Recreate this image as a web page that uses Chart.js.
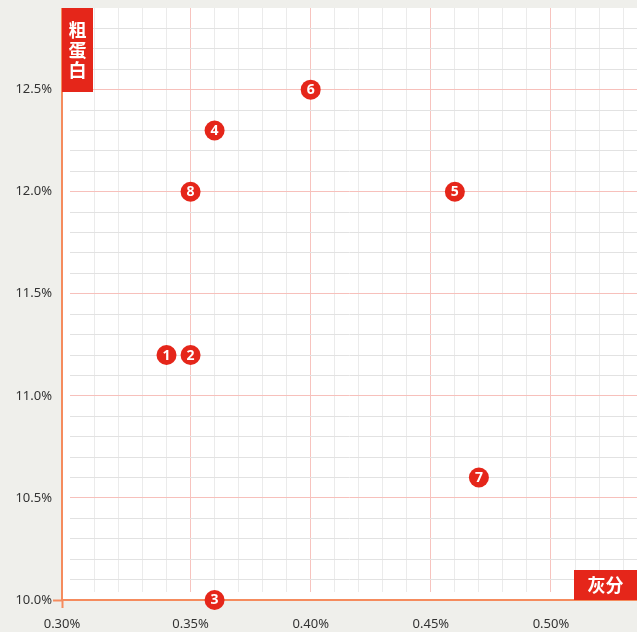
<!DOCTYPE html>
<html lang="zh">

<head>
    <title>灰分 / 粗蛋白</title>
    <script src="https://cdn.jsdelivr.net/npm/chart.js"></script>
    <style>
        html, body { margin: 0; padding: 0; background: #efefeb; }
        canvas { display: block; }
    </style>
</head>

<body>
    <canvas id="chart" width="637" height="632"></canvas>

    <script>
        // Data (percent values)
        const pointLabels = ['1', '2', '3', '4', '5', '6', '7', '8'];
        const xValues = [0.34, 0.35, 0.36, 0.36, 0.46, 0.40, 0.47, 0.35];
        const yValues = [11.2, 11.2, 10.0, 12.3, 12.0, 12.5, 10.6, 12.0];

        // Axes
        const xTitle = '灰分';
        const yTitle = '粗蛋白';
        const xMin = 0.2965, xMax = 0.5358;
        const yMin = 10.0, yMax = 12.9;
        const xTickValues = [0.2965, 0.35, 0.40, 0.45, 0.50];
        const xTickLabels = ['0.30%', '0.35%', '0.40%', '0.45%', '0.50%'];
        const yTickValues = [10.0, 10.5, 11.0, 11.5, 12.0, 12.5];
        const yTickLabels = ['10.0%', '10.5%', '11.0%', '11.5%', '12.0%', '12.5%'];

        const red = '#e5261a';
        const axisColor = '#f58b5d';
        const majorGridX = '#f7c3be';
        const majorGridY = '#f7c0bb';
        const minorGridX = '#ebebeb';
        const minorGridY = '#e2e2e2';

        Chart.defaults.font.family = '"Noto Sans", "Noto Sans CJK SC", sans-serif';

        function findTick(list, v) {
            return list.findIndex(t => Math.abs(t - v) < 1e-6);
        }

        // Paints the plot background, the axis gap, axis lines, point numbers and titles
        const decorations = {
            id: 'decorations',
            beforeDraw(chart) {
                const { ctx, chartArea: a } = chart;
                ctx.save();
                ctx.fillStyle = '#ffffff';
                ctx.fillRect(a.left, a.top, a.right - a.left, a.bottom - a.top);
                ctx.restore();
            },
            beforeDatasetsDraw(chart) {
                const { ctx, chartArea: a } = chart;
                ctx.save();
                ctx.fillStyle = '#ffffff';
                ctx.fillRect(a.left, a.top, 8, a.bottom - a.top);
                ctx.fillRect(a.left, a.bottom - 8, a.right - a.left, 8);
                ctx.strokeStyle = axisColor;
                ctx.lineWidth = 2;
                ctx.beginPath();
                ctx.moveTo(a.left, a.top);
                ctx.lineTo(a.left, a.bottom + 1);
                ctx.moveTo(a.left - 1, a.bottom);
                ctx.lineTo(a.right, a.bottom);
                ctx.stroke();
                ctx.restore();
            },
            afterDatasetsDraw(chart) {
                const { ctx } = chart;
                const meta = chart.getDatasetMeta(0);
                ctx.save();
                ctx.fillStyle = '#ffffff';
                ctx.font = 'bold 14px "Noto Sans", sans-serif';
                ctx.textAlign = 'center';
                ctx.textBaseline = 'middle';
                meta.data.forEach((pt, i) => {
                    ctx.fillText(pointLabels[i], pt.x, pt.y + 0.5);
                });
                ctx.restore();
            },
            afterDraw(chart) {
                const { ctx, chartArea: a } = chart;
                ctx.save();
                ctx.fillStyle = red;
                ctx.fillRect(a.left, a.top, 31, 84);
                ctx.fillRect(a.right - 63, a.bottom - 30, 63, 30);
                ctx.fillStyle = '#ffffff';
                ctx.font = 'bold 18px "Noto Sans CJK SC", sans-serif';
                ctx.textAlign = 'center';
                ctx.textBaseline = 'middle';
                [...yTitle].forEach((ch, i) => {
                    ctx.fillText(ch, a.left + 15.5, a.top + 22 + i * 20);
                });
                ctx.fillText(xTitle, a.right - 31.5, a.bottom - 15);
                ctx.restore();
            }
        };

        const ctx = document.getElementById('chart').getContext('2d');

        const chart = new Chart(ctx, {
            type: 'scatter',
            data: {
                datasets: [{
                    data: xValues.map((x, i) => ({ x: x, y: yValues[i] })),
                    backgroundColor: red,
                    borderWidth: 0,
                    pointRadius: 10,
                    pointHoverRadius: 10,
                    clip: false
                }]
            },
            options: {
                responsive: false,
                animation: false,
                layout: { autoPadding: false, padding: { top: 8, right: 0, bottom: 0, left: 0 } },
                plugins: {
                    legend: { display: false },
                    tooltip: { enabled: false }
                },
                scales: {
                    x: {
                        type: 'linear',
                        min: xMin,
                        max: xMax,
                        afterBuildTicks(scale) {
                            const ticks = [{ value: xMin }];
                            for (let v = 31; v <= 53; v++) ticks.push({ value: v / 100 });
                            scale.ticks = ticks;
                        },
                        afterFit(scale) {
                            scale.height = 32;
                            scale.paddingLeft = 0;
                            scale.paddingRight = 0;
                        },
                        border: { display: false },
                        grid: {
                            color: c => c.index === 0 ? 'transparent'
                                : (findTick(xTickValues, c.tick.value) >= 0 ? majorGridX : minorGridX),
                            tickColor: c => c.index === 0 ? axisColor : 'transparent',
                            tickWidth: 2,
                            tickLength: 8
                        },
                        ticks: {
                            autoSkip: false,
                            maxRotation: 0,
                            padding: 8,
                            color: '#333333',
                            font: { size: 13 },
                            callback: v => {
                                const i = findTick(xTickValues, v);
                                return i >= 0 ? xTickLabels[i] : '';
                            }
                        }
                    },
                    y: {
                        type: 'linear',
                        min: yMin,
                        max: yMax,
                        afterBuildTicks(scale) {
                            const ticks = [];
                            for (let v = 100; v <= 128; v++) ticks.push({ value: v / 10 });
                            scale.ticks = ticks;
                        },
                        afterFit(scale) {
                            scale.width = 62;
                            scale.paddingTop = 0;
                            scale.paddingBottom = 0;
                        },
                        border: { display: false },
                        grid: {
                            color: c => c.index === 0 ? 'transparent'
                                : (c.index % 5 === 0 ? majorGridY : minorGridY),
                            tickColor: c => c.index === 0 ? axisColor : 'transparent',
                            tickWidth: 2,
                            tickLength: 9
                        },
                        ticks: {
                            autoSkip: false,
                            padding: 1,
                            color: '#333333',
                            font: { size: 13 },
                            callback: v => {
                                const i = findTick(yTickValues, v);
                                return i >= 0 ? yTickLabels[i] : '';
                            }
                        }
                    }
                }
            },
            plugins: [decorations]
        });
    </script>
</body>

</html>
